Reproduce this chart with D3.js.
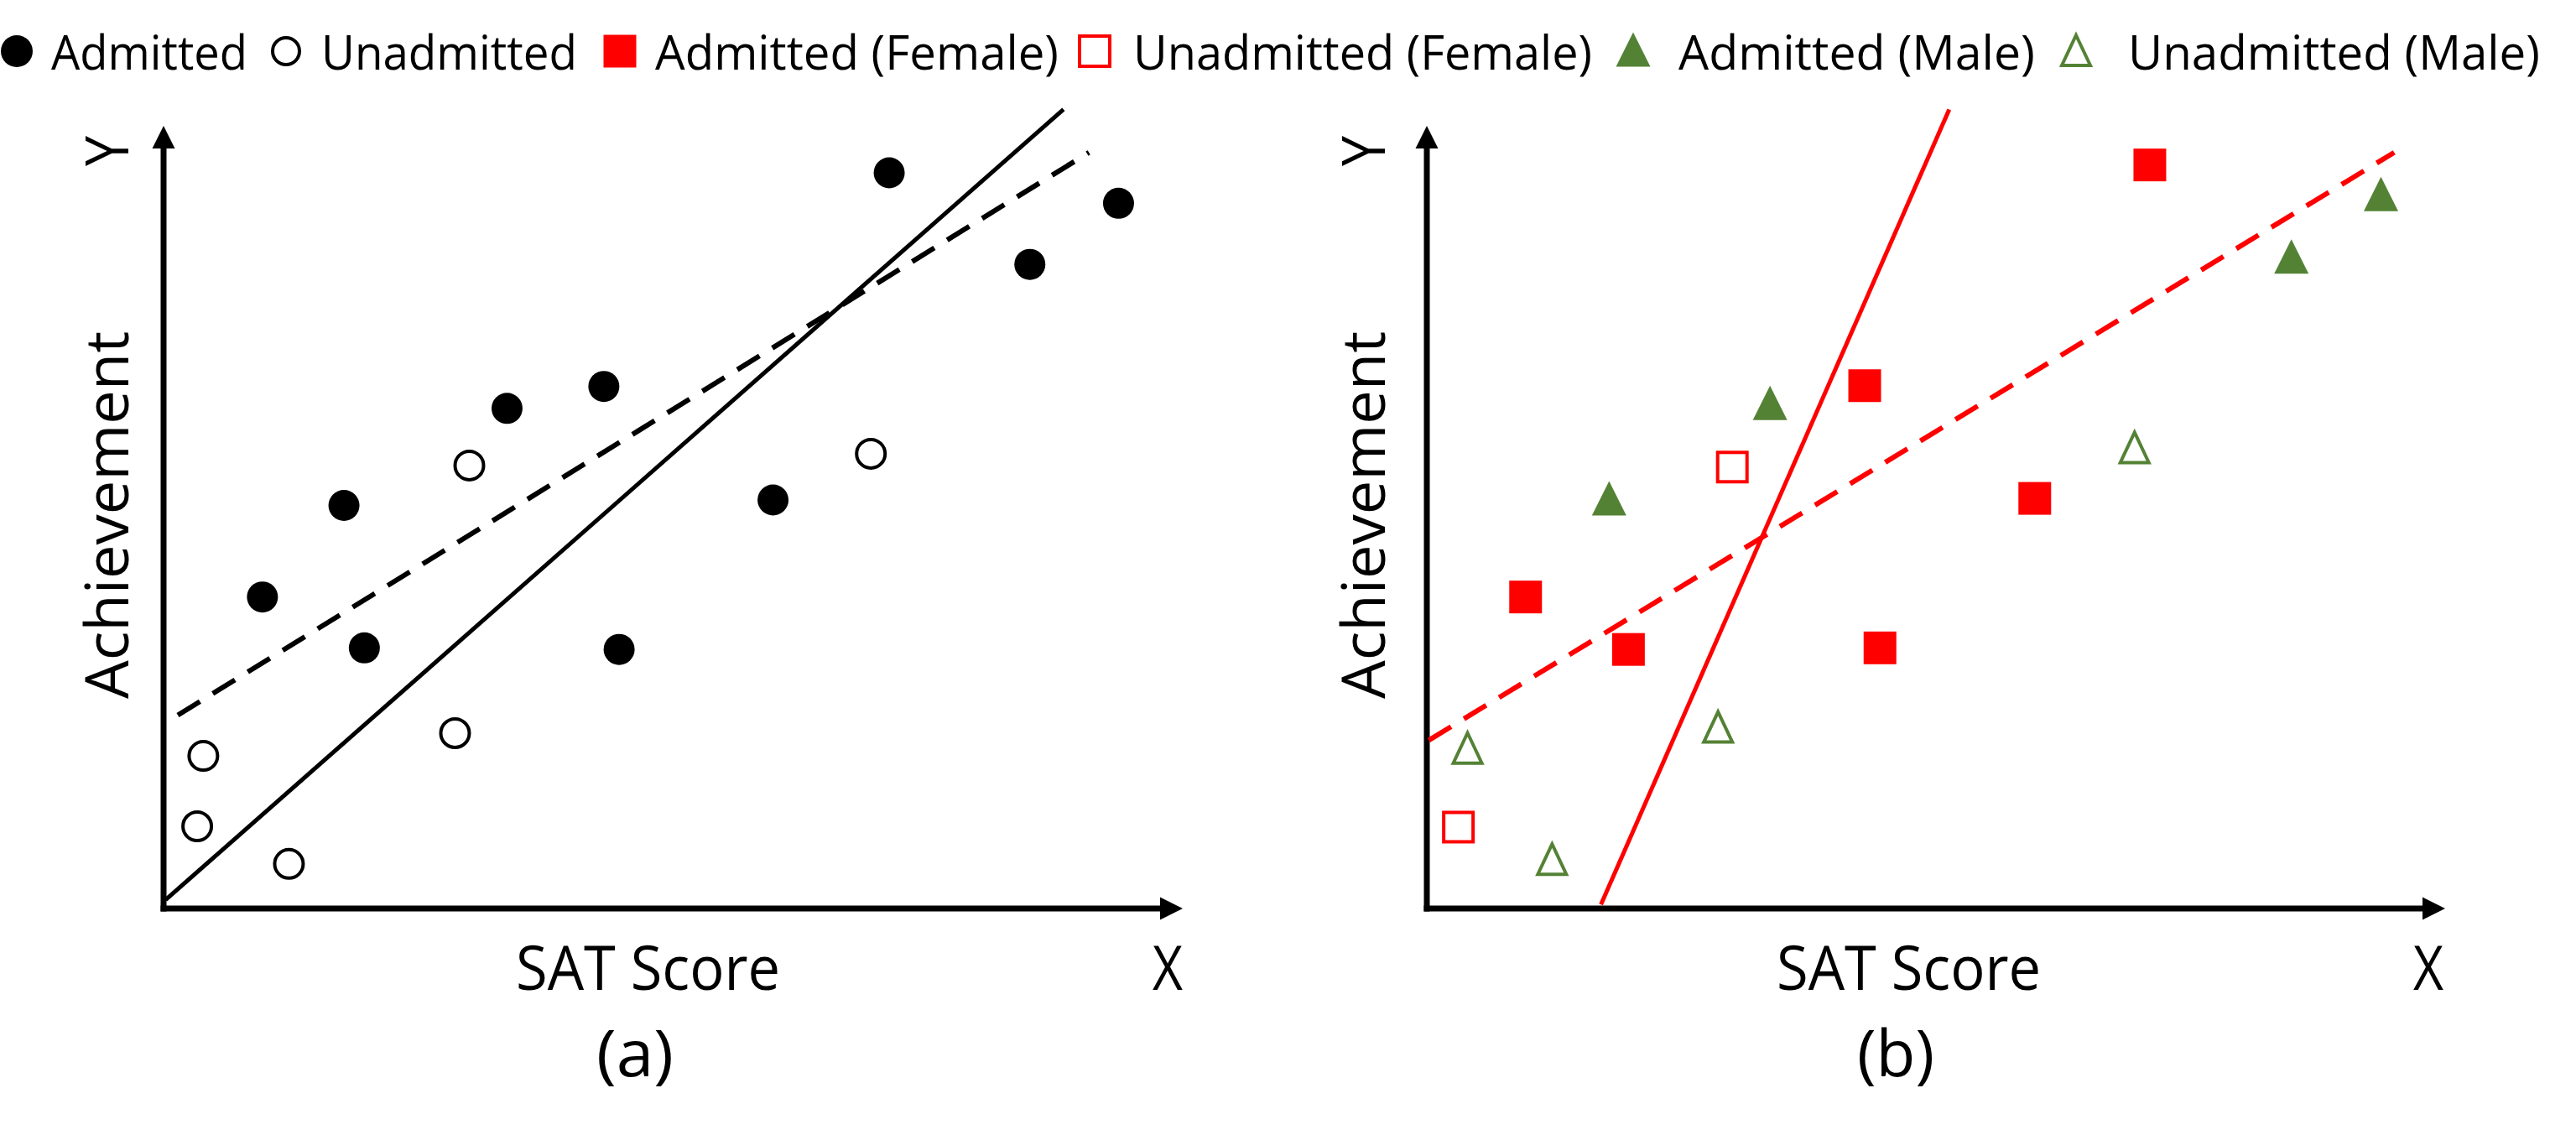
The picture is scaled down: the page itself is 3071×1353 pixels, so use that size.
<!DOCTYPE html>
<html>
<head>
<meta charset="utf-8">
<script src="https://cdn.jsdelivr.net/npm/d3@7/dist/d3.min.js"></script>
<style>
  body { margin: 0; background: #fff; }
  svg { display: block; }
  text { font-family: "Open Sans", sans-serif; fill: #000; }
</style>
</head>
<body>
<div id="graph"></div>
<script>
// points as [x, y] on a 0-100 scale
var admitted = [[9.7, 39.8], [17.7, 51.5], [19.7, 33.3], [33.7, 63.9], [43.2, 66.7],
  [44.7, 33.1], [59.8, 52.2], [71.2, 94.0], [85.0, 82.3], [93.7, 90.1]];
var unadmitted = [[3.3, 10.5], [3.9, 19.5], [12.3, 5.7], [28.6, 22.4], [30.0, 56.6], [69.4, 58.1]];

var admittedFemale = [[9.7, 39.8], [19.8, 33.1], [43.0, 66.8], [44.5, 33.3], [59.7, 52.4], [71.0, 95.0]];
var unadmittedFemale = [[3.1, 10.4], [30.0, 56.4]];
var admittedMale = [[17.9, 52.4], [33.7, 64.6], [84.9, 83.3], [93.7, 91.3]];
var unadmittedMale = [[4.0, 20.5], [12.3, 6.3], [28.6, 23.2], [69.5, 58.9]];

// fitted lines (two end points each)
var lineAllA = [[0.2, 1.1], [88.3, 102.1]];
var lineAdmittedA = [[1.4, 24.7], [90.8, 96.6]];
var lineSolidB = [[17.1, 0.5], [51.3, 102.1]];
var lineDashedB = [[0.2, 21.5], [95.0, 96.6]];

var legendLabels = ["Admitted", "Unadmitted", "Admitted (Female)", "Unadmitted (Female)",
  "Admitted (Male)", "Unadmitted (Male)"];
var panelTitles = ["(a)", "(b)"];

var W = 3071, H = 1353;
var red = "#ff0000", green = "#548235";

var svg = d3.select("#graph").append("svg")
  .attr("width", W).attr("height", H);

var y = d3.scaleLinear().domain([0, 100]).range([1083, 150]);
var xA = d3.scaleLinear().domain([0, 100]).range([195, 1410]);
var xB = d3.scaleLinear().domain([0, 100]).range([1701, 2915]);

var tri = "M0,-20.5L20.5,20.5L-20.5,20.5Z";
var triOpen = "M0,-18L17,18L-17,18Z";

function drawAxes(g, x, title, labelX, txtOffset) {
  var x0 = x(0), y0 = y(0), xt = x(100), yt = y(100);
  g.append("line").attr("x1", x0).attr("y1", y0 + 3.5).attr("x2", x0).attr("y2", yt + 25)
    .attr("stroke", "#000").attr("stroke-width", 7);
  g.append("line").attr("x1", x0 - 3.5).attr("y1", y0).attr("x2", xt - 25).attr("y2", y0)
    .attr("stroke", "#000").attr("stroke-width", 7);
  g.append("path")
    .attr("d", "M" + x0 + "," + yt + "L" + (x0 + 13.5) + "," + (yt + 27) + "L" + (x0 - 13.5) + "," + (yt + 27) + "Z")
    .attr("fill", "#000");
  g.append("path")
    .attr("d", "M" + xt + "," + y0 + "L" + (xt - 27) + "," + (y0 - 13.5) + "L" + (xt - 27) + "," + (y0 + 13.5) + "Z")
    .attr("fill", "#000");

  // axis labels
  g.append("text").attr("transform", "translate(" + labelX + ",180) rotate(-90)")
    .attr("text-anchor", "middle").style("font-size", "72px")
    .attr("textLength", 36).attr("lengthAdjust", "spacingAndGlyphs").text("Y");
  g.append("text").attr("transform", "translate(" + labelX + ",614) rotate(-90)")
    .attr("text-anchor", "middle").style("font-size", "72px")
    .attr("textLength", 438).attr("lengthAdjust", "spacingAndGlyphs").text("Achievement");
  g.append("text").attr("x", 615 + txtOffset).attr("y", 1180).style("font-size", "73px")
    .attr("textLength", 315).attr("lengthAdjust", "spacingAndGlyphs").text("SAT Score");
  g.append("text").attr("x", 1374 + txtOffset).attr("y", 1180).style("font-size", "73px")
    .attr("textLength", 36).attr("lengthAdjust", "spacingAndGlyphs").text("X");
  g.append("text").attr("x", 757 + txtOffset * 1.0).attr("y", 1283).attr("text-anchor", "middle")
    .style("font-size", "76px").attr("textLength", 92).attr("lengthAdjust", "spacingAndGlyphs")
    .text(title);
}

function fitLine(g, x, pts, color, dashed) {
  var line = d3.line().x(function(d) { return x(d[0]); }).y(function(d) { return y(d[1]); });
  g.append("path").datum(pts).attr("d", line)
    .attr("fill", "none").attr("stroke", color)
    .attr("stroke-width", dashed ? 6 : 5)
    .attr("stroke-dasharray", dashed ? "31,18" : null);
}

// panel (a)
var ga = svg.append("g");
drawAxes(ga, xA, panelTitles[0], 153, 0);
fitLine(ga, xA, lineAllA, "#000", false);
fitLine(ga, xA, lineAdmittedA, "#000", true);

ga.selectAll(".adm").data(admitted).enter().append("circle")
  .attr("cx", function(d) { return xA(d[0]); })
  .attr("cy", function(d) { return y(d[1]); })
  .attr("r", 18.5).attr("fill", "#000");
ga.selectAll(".unadm").data(unadmitted).enter().append("circle")
  .attr("cx", function(d) { return xA(d[0]); })
  .attr("cy", function(d) { return y(d[1]); })
  .attr("r", 17).attr("fill", "#fff").attr("stroke", "#000").attr("stroke-width", 4);

// panel (b)
var gb = svg.append("g");
drawAxes(gb, xB, panelTitles[1], 1651, 1503);
fitLine(gb, xB, lineSolidB, red, false);
fitLine(gb, xB, lineDashedB, red, true);

gb.selectAll(".af").data(admittedFemale).enter().append("rect")
  .attr("x", function(d) { return xB(d[0]) - 19.5; })
  .attr("y", function(d) { return y(d[1]) - 19.5; })
  .attr("width", 39).attr("height", 39).attr("fill", red);
gb.selectAll(".uf").data(unadmittedFemale).enter().append("rect")
  .attr("x", function(d) { return xB(d[0]) - 17.5; })
  .attr("y", function(d) { return y(d[1]) - 17.5; })
  .attr("width", 35).attr("height", 35).attr("fill", "#fff")
  .attr("stroke", red).attr("stroke-width", 4);
gb.selectAll(".am").data(admittedMale).enter().append("path")
  .attr("transform", function(d) { return "translate(" + xB(d[0]) + "," + y(d[1]) + ")"; })
  .attr("d", tri).attr("fill", green);
gb.selectAll(".um").data(unadmittedMale).enter().append("path")
  .attr("transform", function(d) { return "translate(" + xB(d[0]) + "," + y(d[1]) + ")"; })
  .attr("d", triOpen).attr("fill", "#fff").attr("stroke", green).attr("stroke-width", 4)
  .attr("stroke-linejoin", "miter");

// legend
var legendX = [61, 383, 781, 1351, 2001, 2537];
var legendW = [234, 305, 481, 547, 425, 491];
var symX = [20, 341, 739, 1305, 1947, 2475];
var ly = 61;
var lg = svg.append("g");
lg.append("circle").attr("cx", symX[0]).attr("cy", ly).attr("r", 19).attr("fill", "#000");
lg.append("circle").attr("cx", symX[1]).attr("cy", ly).attr("r", 16)
  .attr("fill", "#fff").attr("stroke", "#000").attr("stroke-width", 4);
lg.append("rect").attr("x", symX[2] - 19.5).attr("y", ly - 19.5).attr("width", 39).attr("height", 39)
  .attr("fill", red);
lg.append("rect").attr("x", symX[3] - 18).attr("y", ly - 18).attr("width", 36).attr("height", 36)
  .attr("fill", "#fff").attr("stroke", red).attr("stroke-width", 4);
lg.append("path").attr("transform", "translate(" + symX[4] + "," + (ly - 2) + ")").attr("d", tri)
  .attr("fill", green);
lg.append("path").attr("transform", "translate(" + symX[5] + "," + (ly - 1) + ")").attr("d", triOpen)
  .attr("fill", "#fff").attr("stroke", green).attr("stroke-width", 4);

lg.selectAll("text.leg").data(legendLabels).enter().append("text")
  .attr("class", "leg")
  .attr("x", function(d, i) { return legendX[i]; })
  .attr("y", 83)
  .style("font-size", "56px")
  .attr("textLength", function(d, i) { return legendW[i]; })
  .attr("lengthAdjust", "spacingAndGlyphs")
  .text(function(d) { return d; });
</script>
</body>
</html>
